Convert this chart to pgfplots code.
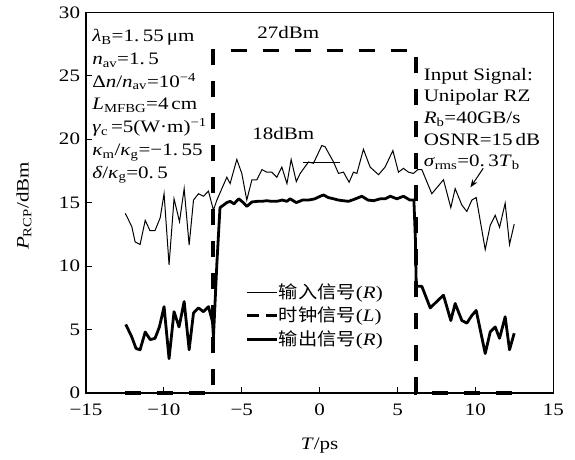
\documentclass[border=0pt]{standalone}
\usepackage{fontspec}
\setmainfont{Liberation Serif}[FakeStretch=1.2]
\newfontfamily\cjk{Noto Sans CJK SC}[FakeStretch=1.1]
\usepackage{pgfplots}
\usepackage{pgfplotstable}
\pgfplotsset{compat=1.18}
\usetikzlibrary{arrows.meta}

% input signal (thin)
\pgfplotstableread{
x y
-12.48 14.16
-12.06 13.1
-11.85 11.9
-11.53 11.7
-11.2 13.6
-10.9 12.8
-10.57 12.8
-10.24 13.8
-9.99 15.7
-9.67 10.1
-9.35 15.3
-9.0 13.5
-8.7 16.1
-8.38 11.65
-8.1 15.2
-7.78 15.7
-7.46 15.5
-7.14 15.9
-6.82 14.4
-6.6 15.2
-6.28 16.1
-5.96 17.0
-5.75 16.5
-5.32 18.4
-5.0 17.3
-4.68 15.2
-4.35 16.8
-4.03 16.8
-3.71 17.6
-3.39 17.4
-3.07 17.4
-2.75 17.0
-2.43 17.8
-2.1 16.5
-1.83 18.4
-1.5 16.65
-1.25 17.3
-0.72 18.2
-0.4 18.1
0.14 19.5
0.35 19.4
0.89 18.2
1.21 17.3
1.53 17.4
1.89 16.6
2.17 17.4
2.39 17.3
2.81 19.2
3.24 17.8
3.78 17.2
4.2 17.8
4.7 19.1
5.06 17.4
5.38 17.7
5.7 17.4
6.02 17.3
6.3 17.6
6.56 17.6
7.2 15.7
7.95 16.8
8.42 14.6
8.7 16.1
9.13 14.8
9.45 14.3
9.77 15.2
10.05 15.4
10.63 11.3
10.95 13.2
11.27 14.0
11.55 13.05
11.91 14.95
12.19 11.7
12.49 13.3
}\inputdata

% output signal (thick)
\pgfplotstableread{
x y
-12.45 5.4
-12.06 4.4
-11.79 3.5
-11.53 3.4
-11.2 4.8
-10.88 4.2
-10.57 4.3
-10.29 5.2
-9.99 6.8
-9.67 2.7
-9.35 6.4
-9.03 5.2
-8.7 7.2
-8.38 3.4
-8.1 6.3
-7.78 6.7
-7.46 6.4
-7.14 6.8
-6.88 5.6
-6.82 4.4
-6.6 10.2
-6.4 14.6
-6.18 14.8
-5.96 15.0
-5.75 15.1
-5.5 14.9
-5.2 15.3
-4.9 15.0
-4.68 14.7
-4.35 15.05
-4.0 15.1
-3.7 15.1
-3.4 15.15
-3.1 15.1
-2.75 15.1
-2.4 15.2
-2.1 15.1
-1.9 15.3
-1.5 15.0
-1.1 15.2
-0.7 15.2
-0.3 15.3
0.03 15.5
0.25 15.6
0.55 15.4
0.89 15.3
1.2 15.2
1.5 15.15
1.85 15.1
2.2 15.25
2.71 15.5
3.1 15.2
3.46 15.15
3.9 15.3
4.2 15.3
4.53 15.5
4.96 15.3
5.38 15.5
5.8 15.2
6.05 15.2
6.15 12.0
6.2 8.4
6.56 8.4
7.1 6.7
7.6 7.3
7.95 7.7
8.42 5.7
8.7 7.05
9.13 5.7
9.45 5.5
9.77 6.1
10.05 6.5
10.63 3.1
10.95 4.8
11.27 5.2
11.55 4.3
11.91 6.0
12.19 3.4
12.49 4.7
}\outputdata

\newcommand{\dsp}{\hspace{3.5pt}}

\begin{document}
\fontsize{17.5}{21}\selectfont
\begin{tikzpicture}
\begin{axis}[name=ax,
  width=467pt, height=380.4pt, scale only axis,
  xmin=-15, xmax=15, ymin=0, ymax=30,
  xtick={-15,-10,...,15}, ytick={0,5,...,30},
  xticklabels={−15,−10,−5,0,5,10,15},
  yticklabels={0,5,10,15,20,25,30},
  tick align=inside, xtick pos=bottom, ytick pos=left,
  major tick length=6pt,
  axis line style={line width=1.2pt},
  every tick/.style={black, line width=1pt},
  xticklabel style={yshift=-5pt},
  xlabel={\textit{T}/ps},
  ylabel={\textit{P}\textsubscript{RCP}/dBm},
  xlabel style={at={(axis description cs:0.5,0)}, anchor=center, yshift=-53pt},
  ylabel style={at={(axis description cs:0,0.491)}, anchor=center, yshift=62pt},
  clip=false,
  legend cell align=left,
  legend image code/.code={\draw[#1] (0pt,0pt) -- (30pt,0pt);},
  legend style={at={(0.34,0.29)}, anchor=north west, draw=none, fill=none,
    inner sep=0pt, row sep=4pt, nodes={inner sep=1pt}},
]
\addlegendimage{black, line width=1pt}
\addlegendentry{{\cjk 输入信号}(\textit{R})}
\addlegendimage{black, line width=2.6pt, dash pattern=on 12pt off 7pt}
\addlegendentry{{\cjk 时钟信号}(\textit{L})}
\addlegendimage{black, line width=2.8pt}
\addlegendentry{{\cjk 输出信号}(\textit{R})}

\addplot[forget plot, black, line width=1pt, line join=miter] table {\inputdata};
\addplot[forget plot, black, line width=2.8pt, line join=round] table {\outputdata};
\addplot[forget plot, black, line width=3.5pt, dash pattern=on 16pt off 16pt]
  coordinates {(-12.5,0) (-6.85,0) (-6.85,27) (6.2,27) (6.2,0) (12.5,0)};
\addplot[forget plot, black, line width=1pt] coordinates {(-1.06,18.2) (1.32,18.2)};

\draw[-{Stealth[length=8pt,width=6pt]}, line width=1pt] (axis cs:10.5,17.7) -- (axis cs:9.68,16.2);

\begin{scope}[every node/.style={anchor=base west, inner sep=0pt}]
\node at (axis cs:-14.61,27.66) {\textit{λ}\textsubscript{B}=1.\dsp55\,μm};
\node at (axis cs:-14.61,25.87) {\textit{n}\textsubscript{av}=1.\dsp5};
\node at (axis cs:-14.61,24.08) {Δ\textit{n}/\textit{n}\textsubscript{av}=10\textsuperscript{−4}};
\node at (axis cs:-14.61,22.30) {\textit{L}\textsubscript{MFBG}=4\,cm};
\node at (axis cs:-14.61,20.50) {\textit{γ}\textsubscript{c}\,=5(W·m)\textsuperscript{−1}};
\node at (axis cs:-14.61,18.71) {\textit{κ}\textsubscript{m}/\textit{κ}\textsubscript{g}=−1.\dsp55};
\node at (axis cs:-14.61,16.92) {\textit{δ}/\textit{κ}\textsubscript{g}=0.\dsp5};
\node at (axis cs:6.67,24.66) {Input Signal:};
\node at (axis cs:6.67,22.95) {Unipolar RZ};
\node at (axis cs:6.67,21.24) {\textit{R}\textsubscript{b}=40GB/s};
\node at (axis cs:6.67,19.53) {OSNR=15\,dB};
\node at (axis cs:6.67,17.82) {\textit{σ}\textsubscript{rms}=0.\dsp3\textit{T}\textsubscript{b}};
\node at (axis cs:-4.01,27.97) {27dBm};
\node at (axis cs:-4.34,20.01) {18dBm};
\end{scope}
\end{axis}
\path ([xshift=-86pt,yshift=-62.3pt]ax.south west) rectangle ([xshift=21.7pt,yshift=12.3pt]ax.north east);
\end{tikzpicture}
\end{document}
